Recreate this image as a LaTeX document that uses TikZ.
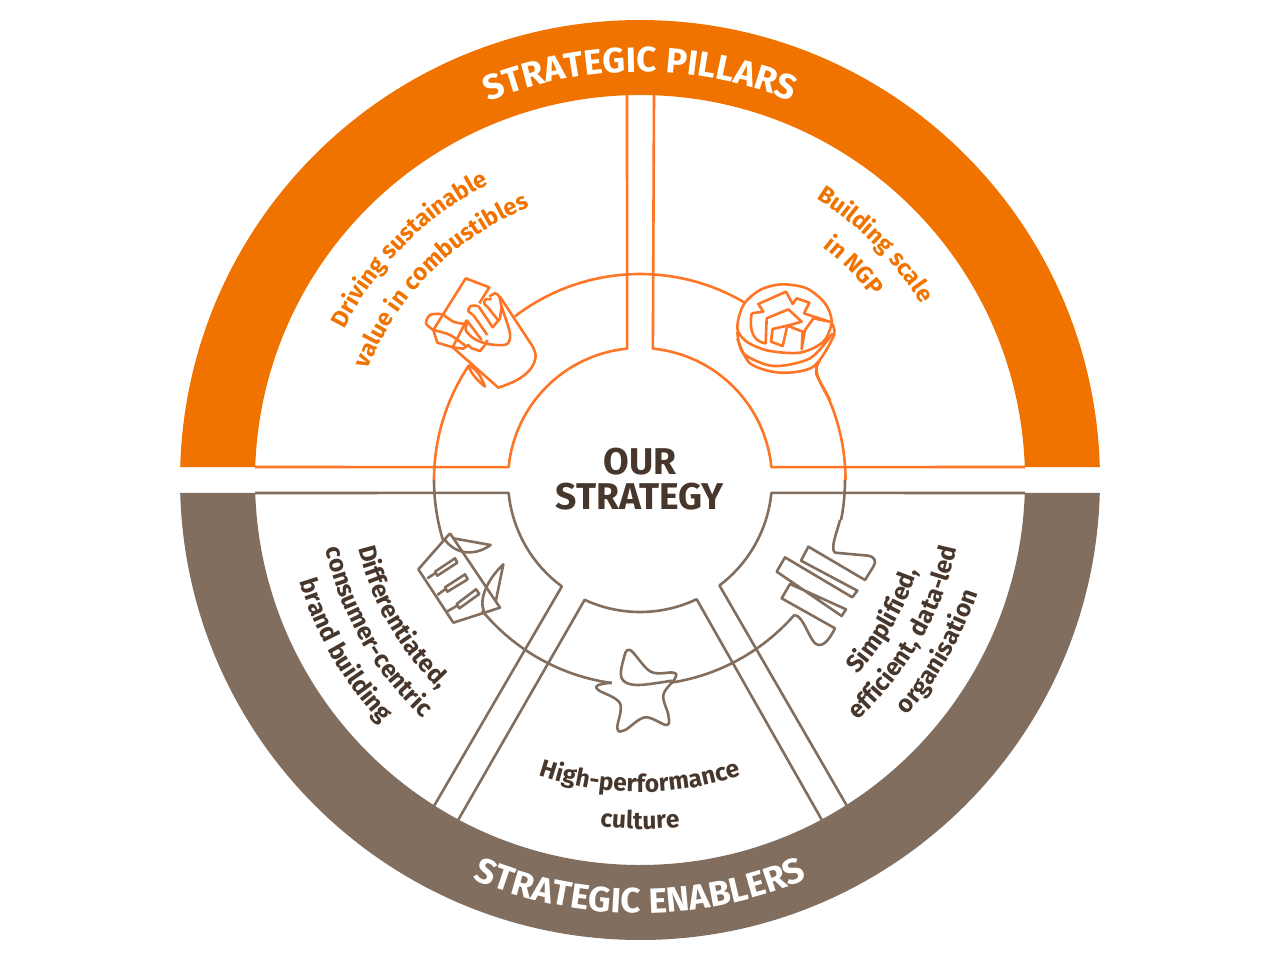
\documentclass[tikz,border=0pt]{standalone}
\usepackage{xcolor}
\usepackage{fontspec}
\setmainfont{Fira Sans}
\usetikzlibrary{decorations.text,calc}
\definecolor{pillar}{RGB}{240,115,0}
\definecolor{pillarline}{RGB}{255,117,38}
\definecolor{enabler}{RGB}{130,110,95}
\definecolor{darktext}{RGB}{70,54,43}
\newcommand{\titlefont}{\fontsize{25}{25}\selectfont\bfseries\color{white}}
\newcommand{\pillarfont}{\fontsize{16.8}{17}\selectfont\bfseries\color{pillar}}
\newcommand{\enablerfont}{\fontsize{17.5}{18}\selectfont\bfseries\color{darktext}}
\newcommand{\overlabel}[3]{
  \path[decorate,decoration={text along path,text align=center,text={#3}}] ($(640,480)+(#2-60:#1)$) arc[start angle=#2-60,delta angle=120,radius=#1];
}
\newcommand{\underlabel}[3]{
  \path[decorate,decoration={text along path,text align=center,text={#3}}] ($(640,480)+(#2+60:#1)$) arc[start angle=#2+60,delta angle=-120,radius=#1];
}
\tikzset{x=.025cm}
\tikzset{y=-.025cm}
\tikzstyle{pillarstroke}=[draw=pillarline,line width=.65mm,line join=round]
\tikzstyle{enablerstroke}=[draw=enabler,line width=.65mm,line join=round]
\tikzset{icon/.style={shift={(#1)},scale=1/3}}

\begin{document}
\begin{tikzpicture}
  \useasboundingbox (0,0) rectangle (1280,960);

  %% Rings
  \fill[pillar] ($(640,480)+(181.62:460)$) arc[start angle=181.62,end angle=358.38,radius=460]
    -- ($(640,480)+(358.07:385)$) arc[start angle=358.07,end angle=181.93,radius=385] -- cycle;
  \fill[enabler] ($(640,480)+(1.62:460)$) arc[start angle=1.62,end angle=178.38,radius=460]
    -- ($(640,480)+(178.07:385)$) arc[start angle=178.07,end angle=1.93,radius=385] -- cycle;

  %% Panels
  \draw[pillarstroke] (255,467) -- ($(640,480)+(185.6:132)$) arc[start angle=185.6,end angle=264.4,radius=132] -- (627,95);
  \draw[pillarstroke] (654,95) -- ($(640,480)+(275.6:132)$) arc[start angle=275.6,end angle=354.4,radius=132] -- (1025,467);
  \draw[enablerstroke] (255,493) -- ($(640,480)+(174.4:132)$) arc[start angle=174.4,end angle=126.3,radius=132] -- (434,806);
  \draw[enablerstroke] (457,822) -- ($(640,480)+(114.8:132)$) arc[start angle=114.8,end angle=64.6,radius=132] -- (823,822);
  \draw[enablerstroke] (847,806) -- ($(640,480)+(53:132)$) arc[start angle=53,end angle=5.6,radius=132] -- (1025,493);

  %% Middle circle
  \draw[pillarstroke] ($(640,480)+(180:206)$) arc[start angle=180,end angle=213.8,radius=206];
  \draw[pillarstroke] ($(640,480)+(232.6:206)$) arc[start angle=232.6,end angle=300.5,radius=206];
  \draw[pillarstroke] (845.5,480) arc[start angle=0,end angle=-23,radius=205.5] .. controls (822,385) and (814,375) .. (817,363);
  \draw[enablerstroke] ($(640,480)+(0:205)$) arc[start angle=0,end angle=11.3,radius=205];
  \draw[enablerstroke] ($(640,480)+(41:205)$) arc[start angle=41,end angle=81.5,radius=205];
  \draw[enablerstroke] ($(640,480)+(97.9:205)$) arc[start angle=97.9,end angle=140.4,radius=205];
  \draw[enablerstroke] ($(640,480)+(180:206)$) arc[start angle=180,end angle=163,radius=206];

  %% Combustibles
  \begin{scope}[icon={400,250}]
    \draw[pillarstroke] (205,345) .. controls (235,360) and (245,385) .. (255,410) .. controls (225,385) and (210,365) .. (205,345);
    \draw[pillarstroke] (158,292) -- (295,413) .. controls (350,395) and (400,370) .. (407,320) .. controls (405,295) and (395,285) .. (385,270) -- (300,140);
    \draw[pillarstroke] (238,160) -- (268,112) -- (197,85) -- (100,240) -- (112,278) -- (158,292) -- (200,210);
    \draw[pillarstroke] plot[smooth] coordinates {(100,240) (78,220) (90,195) (125,193) (160,215) (195,222)};
    \draw[pillarstroke] plot[smooth] coordinates {(100,240) (150,255) (200,290)};
    \draw[pillarstroke] (158,292) -- (190,296) -- (205,285) -- (215,295) -- (240,303) -- (255,285) -- (262,270);
    \draw[pillarstroke] plot[smooth] coordinates {(205,215) (197,240) (225,268) (270,283) (320,283) (330,250) (305,170) (298,140) (285,130) (268,140)};
    \draw[pillarstroke] plot[smooth] coordinates {(220,195) (205,183) (212,168) (235,168)};
    \draw[pillarstroke] (220,195) -- (262,255);
    \draw[pillarstroke] (200,210) -- (245,270);
    \draw[pillarstroke] (235,168) -- (278,232) -- (300,205) -- (305,170);
    \draw[pillarstroke] plot[smooth] coordinates {(275,148) (258,148) (252,160) (262,170)};
    \draw[pillarstroke] (262,170) -- (298,215);
  \end{scope}

  %% NGP
  \begin{scope}[icon={700,260}]
    \draw[pillarstroke] plot[smooth cycle] coordinates {(112,205) (130,135) (180,90) (245,73) (320,85) (375,130) (395,185) (370,245) (300,278) (205,272) (140,245)};
    \draw[pillarstroke] plot[smooth] coordinates {(112,215) (130,280) (220,318) (330,295) (398,220)};
    \draw[pillarstroke] plot[smooth] coordinates {(112,235) (150,310) (240,338) (340,320) (402,225) (392,185)};
    \draw[pillarstroke] (155,160) -- (190,155) -- (175,132) -- (258,95) -- (278,132) -- (290,115) -- (328,128) -- (312,160) -- (388,185) -- (340,175) -- (315,210) -- (305,268) -- (308,215) -- (262,197) -- (248,258) -- (213,245) -- (218,207) -- (270,195) -- (305,185) -- (265,148) -- (200,175) -- (197,250) .. controls (165,245) and (145,220) .. (155,160);
    \draw[pillarstroke] (360,300) .. controls (345,325) and (345,340) .. (355,355) -- (390,420);
  \end{scope}

  %% Brand building
  \begin{scope}[icon={400,510}]
    \draw[enablerstroke] (150,70) -- (55,178) -- (160,338) -- (300,293) -- (150,70);
    \draw[enablerstroke] (105,185) -- (165,145) -- (172,158) -- (112,197) -- cycle;
    \draw[enablerstroke] (135,232) -- (195,193) -- (203,208) -- (142,245) -- cycle;
    \draw[enablerstroke] (170,282) -- (228,238) -- (238,252) -- (178,295) -- cycle;
    \draw[enablerstroke] (82,205) -- (105,190);
    \draw[enablerstroke] (112,255) -- (135,238);
    \draw[enablerstroke] (140,305) -- (170,288);
    \draw[enablerstroke] (135,90) .. controls (160,125) and (215,145) .. (272,105) -- (160,85);
    \draw[enablerstroke] (287,275) -- (310,163) .. controls (265,205) and (235,265) .. (252,305);
  \end{scope}

  %% Culture
  \begin{scope}[icon={560,630}]
    \draw[enablerstroke] plot[smooth,tension=.6] coordinates {(155,158) (115,165) (115,180) (180,220) (172,295) (195,300) (255,262) (320,285) (325,255) (310,195) (345,145) (340,128) (272,125) (210,60) (190,90) (185,145) (230,165) (335,152)};
  \end{scope}

  %% Organisation
  \begin{scope}[icon={740,520}]
    \draw[enablerstroke] (300,0) .. controls (290,40) and (270,85) .. (285,98) -- (385,107) .. controls (405,110) and (410,125) .. (400,140) -- (375,180) -- (205,80) -- (183,122) -- (352,212) -- (337,232) -- (135,112) -- (110,155) -- (305,288) -- (318,268) -- (150,192) -- (125,235) -- (285,325) .. controls (265,365) and (245,385) .. (225,370) .. controls (205,350) and (190,290) .. (165,285);
  \end{scope}

  %% Texts
  \overlabel{408}{270}{|\titlefont|STRATEGIC PILLARS}
  \underlabel{433}{90}{|\titlefont|STRATEGIC ENABLERS}
  \overlabel{332}{225}{|\pillarfont|Driving sustainable}
  \overlabel{294}{225}{|\pillarfont|value in combustibles}
  \overlabel{332}{315}{|\pillarfont|Building scale}
  \overlabel{296}{315}{|\pillarfont|in NGP}
  \underlabel{290}{150}{|\enablerfont|Differentiated,}
  \underlabel{322}{150}{|\enablerfont|consumer-centric}
  \underlabel{355}{150}{|\enablerfont|brand building}
  \underlabel{292}{30}{|\enablerfont|Simplified,}
  \underlabel{324}{30}{|\enablerfont|efficient, data-led}
  \underlabel{356}{30}{|\enablerfont|organisation}
  \underlabel{312}{90}{|\enablerfont|High-performance}
  \underlabel{349}{90}{|\enablerfont|culture}
  \draw (640,479) node[align=center,text=darktext,font=\fontsize{26.5}{25}\selectfont\bfseries] (strategy) {OUR\\STRATEGY};
\end{tikzpicture}
\end{document}
